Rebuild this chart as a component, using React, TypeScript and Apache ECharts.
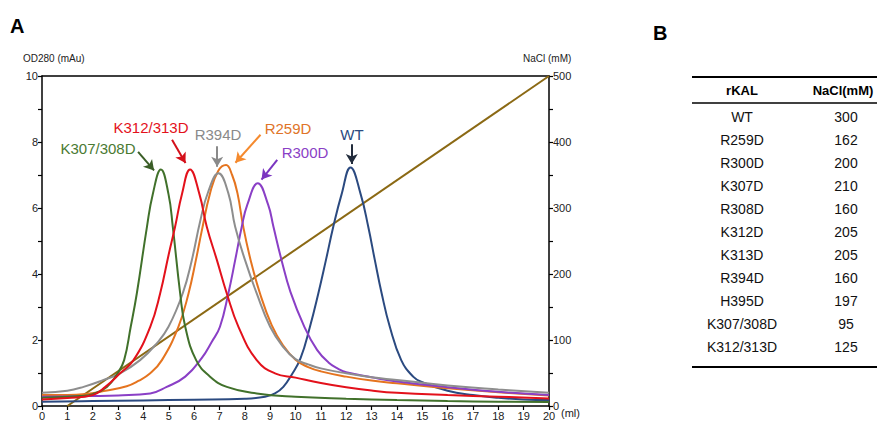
import React, { useEffect, useRef } from "react";
import * as echarts from "echarts";

// ---- Data ----
const wtPoints: [number, number][] = [
  [0, 0.13], [2, 0.15], [4, 0.17], [6, 0.19], [8, 0.22], [8.8, 0.28], [9.19, 0.38], [9.52, 0.58],
  [9.85, 0.95], [10.2, 1.45], [10.57, 2.4], [10.9, 3.41], [11.2, 4.42], [11.49, 5.43], [11.82, 6.42],
  [12.17, 7.23], [12.57, 6.42], [12.87, 5.43], [13.13, 4.42], [13.4, 3.41], [13.72, 2.4], [14.17, 1.39],
  [14.64, 0.89], [15, 0.72], [16, 0.46], [17, 0.33], [18, 0.25], [19, 0.2], [20, 0.18],
];
const r259dPoints: [number, number][] = [
  [0, 0.33], [1, 0.33], [1.9, 0.38], [2.5, 0.46], [3.34, 0.6], [3.8, 0.76], [4.27, 0.99], [4.73, 1.39],
  [5.38, 2.4], [5.78, 3.41], [6.07, 4.42], [6.3, 5.3], [6.63, 6.45], [6.95, 7.12], [7.26, 7.3],
  [7.5, 7.0], [7.71, 6.45], [7.94, 5.43], [8.23, 4.42], [8.6, 3.41], [9.06, 2.45], [9.5, 1.85],
  [10, 1.4], [10.5, 1.18], [11, 1.05], [12, 0.89], [13, 0.77], [14, 0.69], [16, 0.54], [18, 0.42], [20, 0.32],
];
const r300dPoints: [number, number][] = [
  [0, 0.28], [1, 0.29], [1.9, 0.3], [3, 0.32], [4.27, 0.38], [4.92, 0.58], [5.65, 0.89], [6.3, 1.45],
  [6.7, 1.95], [7.02, 2.4], [7.35, 3.41], [7.62, 4.42], [7.88, 5.43], [8.1, 6.1], [8.51, 6.75],
  [8.92, 6.1], [9.13, 5.43], [9.45, 4.42], [9.8, 3.46], [10.35, 2.4], [10.85, 1.7], [11.3, 1.32],
  [11.7, 1.12], [12, 1.02], [13, 0.87], [14, 0.74], [16, 0.57], [18, 0.43], [20, 0.33],
];
const r394dPoints: [number, number][] = [
  [0, 0.4], [1, 0.46], [1.64, 0.58], [2.43, 0.79], [3.08, 0.99], [3.87, 1.39], [4.53, 1.9], [4.99, 2.4],
  [5.55, 3.41], [5.91, 4.42], [6.24, 5.6], [6.56, 6.5], [6.96, 7.05], [7.35, 6.45], [7.62, 5.43],
  [8.01, 4.42], [8.47, 3.41], [9.0, 2.4], [9.5, 1.8], [10, 1.42], [10.5, 1.26], [11, 1.14], [12, 0.99],
  [13, 0.87], [14, 0.79], [16, 0.62], [18, 0.5], [20, 0.4],
];
const k307308dPoints: [number, number][] = [
  [0, 0.25], [1, 0.28], [1.5, 0.3], [2, 0.36], [2.56, 0.58], [2.98, 0.99], [3.24, 1.39], [3.5, 2.4],
  [3.74, 3.41], [4.14, 5.43], [4.37, 6.42], [4.69, 7.17], [4.99, 6.42], [5.16, 5.43], [5.45, 3.41],
  [5.65, 2.4], [6.08, 1.39], [6.63, 0.89], [7.29, 0.58], [8.47, 0.38], [10, 0.28], [12, 0.22],
  [14, 0.18], [16, 0.15], [18, 0.13], [20, 0.12],
];
const k312313dPoints: [number, number][] = [
  [0, 0.2], [1, 0.24], [2, 0.33], [2.5, 0.58], [3.08, 0.99], [3.61, 1.39], [4.27, 2.4], [4.66, 3.41],
  [5.0, 4.6], [5.25, 5.43], [5.52, 6.42], [5.84, 7.17], [6.21, 6.42], [6.5, 5.43], [6.9, 4.42],
  [7.29, 3.41], [7.75, 2.4], [8.47, 1.39], [9.19, 0.99], [10, 0.86], [11, 0.7], [12, 0.57], [13, 0.47],
  [14, 0.4], [16, 0.33], [18, 0.28], [20, 0.23],
];
const naclPoints: [number, number][] = [[1, 0], [20, 500]];

const seriesNames = ["WT", "R259D", "R300D", "R394D", "K307/308D", "K312/313D"];
const seriesData = [wtPoints, r259dPoints, r300dPoints, r394dPoints, k307308dPoints, k312313dPoints];
// arrow start/tip in data coords [ml, mAu]
const arrowStarts: [number, number][] = [[12.22, 7.93], [8.62, 8.22], [9.28, 7.46], [6.91, 7.87], [3.79, 7.7], [5.13, 8.07]];
const arrowTips: [number, number][] = [[12.22, 7.33], [7.63, 7.37], [8.66, 6.86], [6.91, 7.25], [4.42, 7.14], [5.66, 7.36]];

const tableVariants = ["WT", "R259D", "R300D", "K307D", "R308D", "K312D", "K313D", "R394D", "H395D", "K307/308D", "K312/313D"];
const tableNaCl = [300, 162, 200, 210, 160, 205, 205, 160, 197, 95, 125];

// ---- Styles / layout ----
const lineColors = ["#2b4a80", "#e5741f", "#8a3fc6", "#8e8e8e", "#41712b", "#e3111b"];
const labelColors = ["#2b4a80", "#e07428", "#8a3fc6", "#8a8a8a", "#4a7a32", "#e3111b"];
const arrowColors = ["#222c3c", "#f58a2e", "#7a35c0", "#8a8a8a", "#3b5e27", "#d4101a"];
const labelPos: [number, number][] = [[352, 134], [288, 128], [305, 152], [218, 134], [98, 148], [151, 127]];
const FONT = "Liberation Sans, Arial, sans-serif";

const mkAxisLine = () => ({ show: true, onZero: false, lineStyle: { color: "#000", width: 1.5 } });
const mkAxisLabel = (fmt?: (v: number) => string) => ({
  show: true, color: "#222", fontSize: 11, fontFamily: FONT, margin: 4, ...(fmt ? { formatter: fmt } : {}),
});
const mkAxisTick = () => ({ show: true, inside: false, length: 4, lineStyle: { color: "#000", width: 1.2 } });

export default function App() {
  const ref = useRef<HTMLDivElement>(null);
  useEffect(() => {
    if (!ref.current) return;
    const chart = echarts.init(ref.current, undefined, { renderer: "svg" });

    const series: any[] = seriesNames.map((name, i) => ({
      name,
      type: "line",
      data: seriesData[i],
      smooth: 0.45,
      showSymbol: false,
      lineStyle: { color: lineColors[i], width: 2 },
      itemStyle: { color: lineColors[i] },
      z: 3,
      markLine: {
        silent: true,
        symbol: ["none", "arrow"],
        symbolSize: [9, 10],
        label: { show: false },
        lineStyle: { color: arrowColors[i], width: 2, type: "solid" },
        emphasis: { disabled: true },
        data: [[{ coord: arrowStarts[i] }, { coord: arrowTips[i] }]],
      },
    }));
    series.push({
      name: "NaCl",
      type: "line",
      yAxisIndex: 1,
      data: naclPoints,
      showSymbol: false,
      lineStyle: { color: "#8b6914", width: 2 },
      itemStyle: { color: "#8b6914" },
      z: 2,
    });

    const graphic: any[] = [
      { type: "text", left: 10, top: 16, style: { text: "A", font: `bold 20px ${FONT}`, fill: "#000" } },
      { type: "text", left: 653, top: 23, style: { text: "B", font: `bold 20px ${FONT}`, fill: "#000" } },
      { type: "text", x: 23, y: 58, style: { text: "OD280 (mAu)", font: `10px ${FONT}`, fill: "#222", verticalAlign: "middle" } },
      { type: "text", x: 523, y: 58, style: { text: "NaCl (mM)", font: `10px ${FONT}`, fill: "#222", verticalAlign: "middle" } },
      { type: "text", x: 561, y: 413, style: { text: "(ml)", font: `11px ${FONT}`, fill: "#222", verticalAlign: "middle" } },
    ];
    seriesNames.forEach((name, i) => {
      graphic.push({
        type: "text", x: labelPos[i][0], y: labelPos[i][1], z: 10,
        style: { text: name, font: `15px ${FONT}`, fill: labelColors[i], align: "center", verticalAlign: "middle" },
      });
    });

    // Table B
    const tL = 692, tR = 877, c1 = 742, c2 = 843;
    graphic.push({ type: "line", shape: { x1: tL, y1: 77, x2: tR, y2: 77 }, style: { stroke: "#000", lineWidth: 2 } });
    graphic.push({ type: "line", shape: { x1: tL, y1: 103, x2: tR, y2: 103 }, style: { stroke: "#000", lineWidth: 1.5 } });
    graphic.push({ type: "text", x: c1, y: 90, style: { text: "rKAL", font: `bold 13px ${FONT}`, fill: "#000", align: "center", verticalAlign: "middle" } });
    graphic.push({ type: "text", x: c2, y: 90, style: { text: "NaCl(mM)", font: `bold 13px ${FONT}`, fill: "#000", align: "center", verticalAlign: "middle" } });
    tableVariants.forEach((v, i) => {
      const y = 117 + i * 23;
      graphic.push({ type: "text", x: c1, y, style: { text: v, font: `14px ${FONT}`, fill: "#111", align: "center", verticalAlign: "middle" } });
      graphic.push({ type: "text", x: c2 + 3, y, style: { text: String(tableNaCl[i]), font: `14px ${FONT}`, fill: "#111", align: "center", verticalAlign: "middle" } });
    });
    graphic.push({ type: "line", shape: { x1: tL, y1: 367, x2: tR, y2: 367 }, style: { stroke: "#000", lineWidth: 2 } });

    chart.setOption({
      animation: false,
      backgroundColor: "#fff",
      grid: { left: 42, right: 329, top: 76, bottom: 15, containLabel: false },
      xAxis: [
        {
          type: "value", min: 0, max: 20, interval: 1, position: "bottom",
          axisLine: mkAxisLine(), axisTick: mkAxisTick(), axisLabel: mkAxisLabel(), splitLine: { show: false },
        },
        {
          type: "value", min: 0, max: 20, interval: 1, position: "top",
          axisLine: mkAxisLine(), axisTick: { show: false }, axisLabel: { show: false }, splitLine: { show: false },
        },
      ],
      yAxis: [
        {
          type: "value", min: 0, max: 10, interval: 1, position: "left",
          axisLine: mkAxisLine(), axisTick: mkAxisTick(),
          axisLabel: mkAxisLabel((v: number) => (v % 2 === 0 ? String(v) : "")),
          splitLine: { show: false },
        },
        {
          type: "value", min: 0, max: 500, interval: 50, position: "right",
          axisLine: mkAxisLine(), axisTick: mkAxisTick(),
          axisLabel: mkAxisLabel((v: number) => (v % 100 === 0 ? String(v) : "")),
          splitLine: { show: false },
        },
      ],
      series,
      graphic,
    });
    return () => chart.dispose();
  }, []);
  return <div ref={ref} style={{ position: "absolute", left: 0, top: 0, width: 878, height: 421 }} />;
}
